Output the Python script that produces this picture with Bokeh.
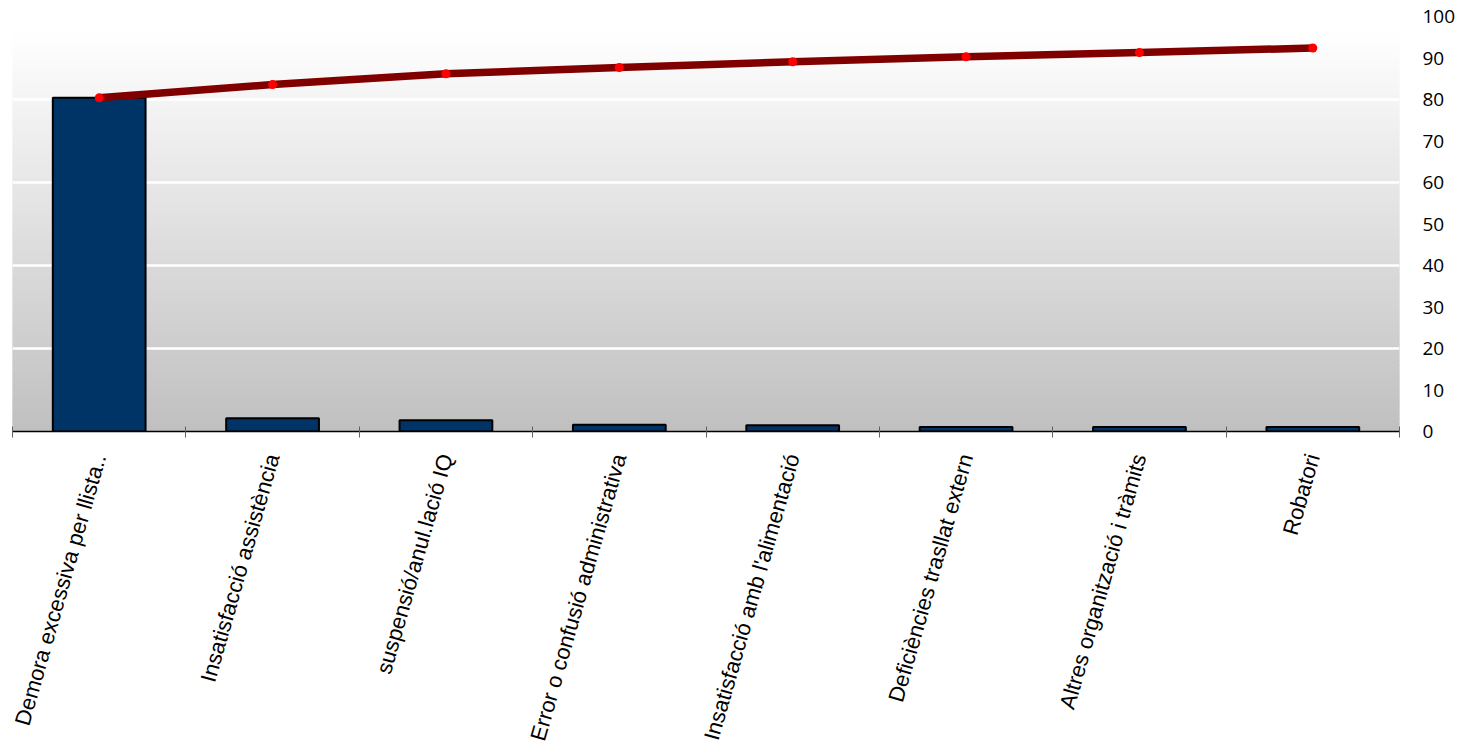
import numpy as np
from bokeh.plotting import figure
from bokeh.models import FixedTicker, Range1d, ColumnDataSource
from bokeh.embed import file_html
from bokeh.resources import INLINE

categories = [
    "Demora excessiva per llista..",
    "Insatisfacció assistència",
    "suspensió/anul.lació IQ",
    "Error o confusió administrativa",
    "Insatisfacció amb l'alimentació",
    "Deficiències trasllat extern",
    "Altres organització i tràmits",
    "Robatori",
]
bar_values = [80.4, 3.2, 2.7, 1.6, 1.5, 1.1, 1.1, 1.1]
cumulative = [80.4, 83.6, 86.2, 87.7, 89.1, 90.3, 91.3, 92.4]
right_ticks = list(range(0, 101, 10))
grid_ticks = [20, 40, 60, 80]

n = len(categories)
centers = [i + 0.5 for i in range(n)]

p = figure(
    frame_width=1387, frame_height=415,
    x_range=Range1d(0, n), y_range=Range1d(0, 100),
    output_backend="svg", toolbar_location=None,
    y_axis_location="right",
    min_border_left=12, min_border_top=16, min_border_right=8,
    background_fill_color="white", border_fill_color="white",
)
p.outline_line_color = None

# gradient background (decoration)
nb = 96
top = 96.0
edges = np.linspace(0, top, nb + 1)
c0 = np.array([0xc0, 0xc0, 0xc0])
c1 = np.array([0xff, 0xff, 0xff])
cols = []
for k in range(nb):
    t = (k + 0.5) / nb
    c = (c0 + (c1 - c0) * t).astype(int)
    cols.append("#%02x%02x%02x" % tuple(c))
bg = p.quad(left=0, right=n, bottom=edges[:-1], top=edges[1:],
            fill_color=cols, line_color=cols, line_width=1.2)
bg.level = "image"

# grid
p.xgrid.visible = False
p.ygrid.ticker = FixedTicker(ticks=grid_ticks)
p.ygrid.grid_line_color = "white"
p.ygrid.grid_line_width = 2.5
p.ygrid.level = "underlay"

# bars
src = ColumnDataSource(dict(x=centers, top=bar_values))
p.vbar(x="x", top="top", bottom=0, width=0.535, source=src,
       fill_color="#003366", line_color="black", line_width=2)

# cumulative line
p.line(centers, cumulative, line_color="#800000", line_width=7.5, line_cap="round", line_join="round")
p.scatter(centers, cumulative, size=9, fill_color="#ff0000", line_color=None)

# right axis
ya = p.yaxis[0]
ya.ticker = FixedTicker(ticks=right_ticks)
ya.axis_line_color = None
ya.major_tick_line_color = None
ya.minor_tick_line_color = None
ya.major_label_standoff = 17
ya.major_label_text_font = "Open Sans"
ya.major_label_text_font_size = "19px"
ya.major_label_text_color = "black"

# bottom axis
xa = p.xaxis[0]
xa.ticker = FixedTicker(ticks=centers, minor_ticks=list(range(0, n + 1)))
xa.major_label_overrides = {c: lab for c, lab in zip(centers, categories)}
xa.major_tick_line_color = None
xa.minor_tick_in = 5
xa.minor_tick_out = 6
xa.minor_tick_line_color = "#606060"
xa.axis_line_color = "black"
xa.axis_line_width = 1.5
xa.major_label_orientation = np.deg2rad(74)
xa.major_label_text_font = "Liberation Sans"
xa.major_label_text_font_size = "22px"
xa.major_label_text_color = "black"
xa.major_label_standoff = 17

open("out.html", "w").write(file_html(p, INLINE))
